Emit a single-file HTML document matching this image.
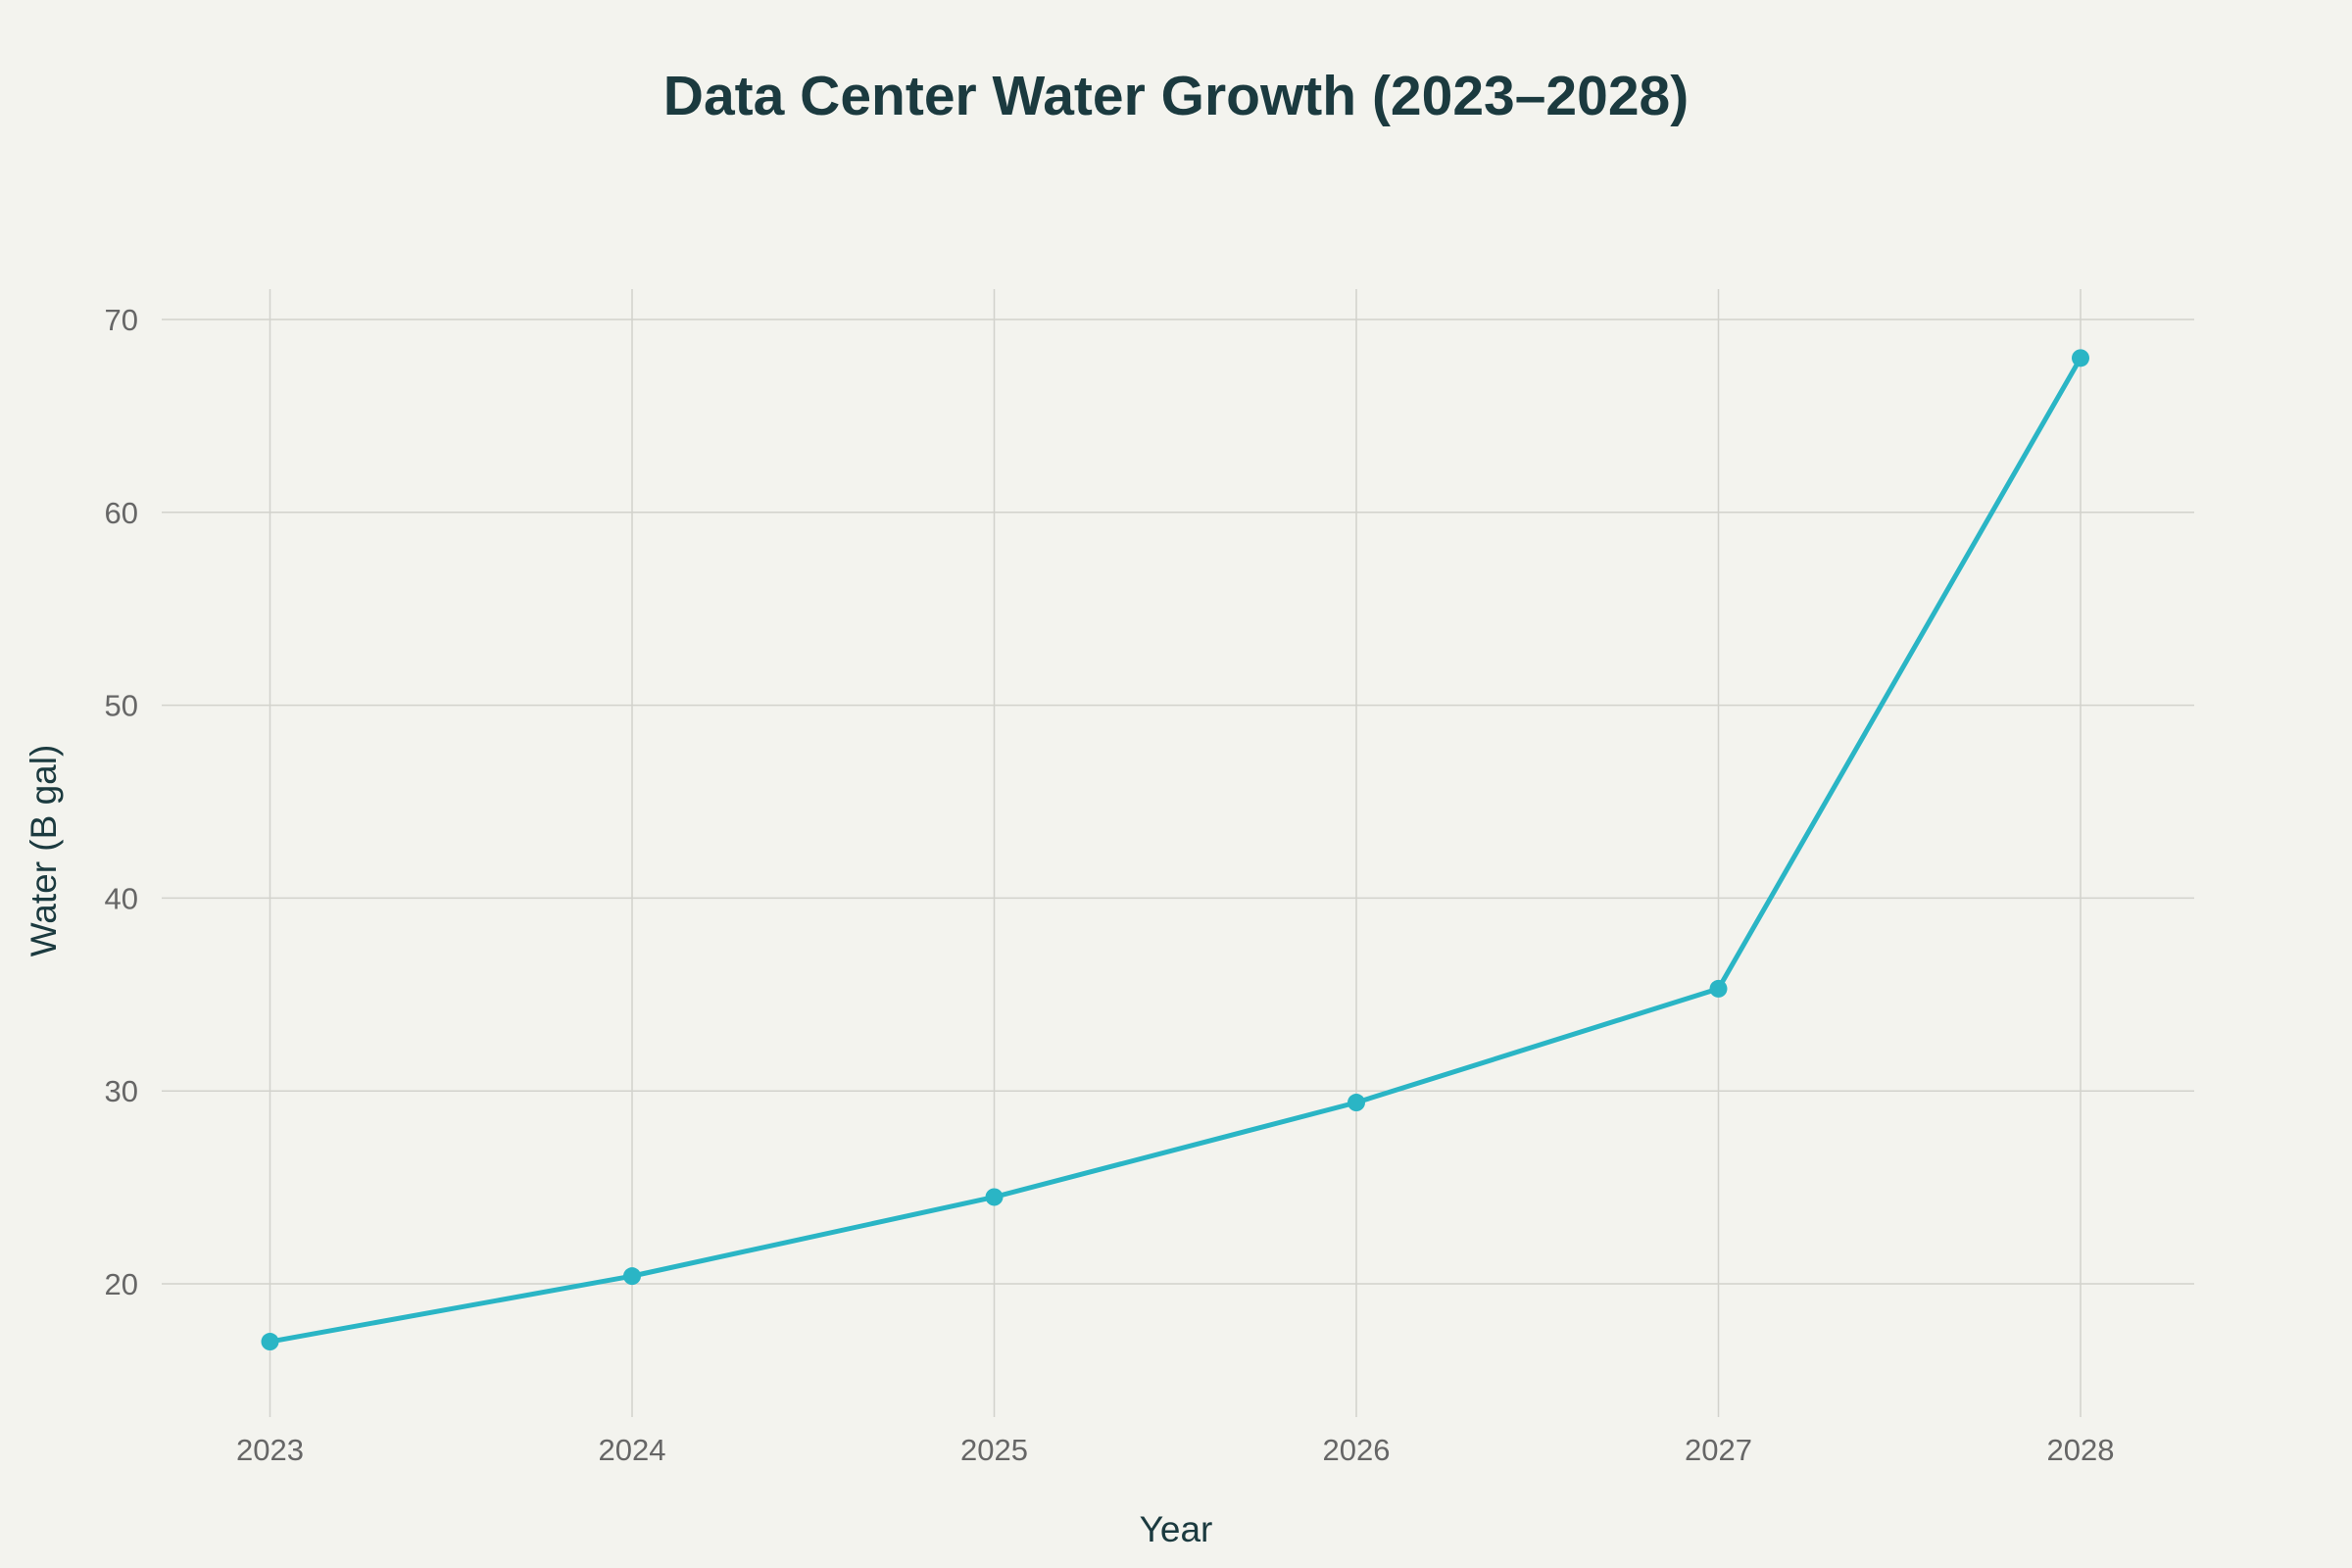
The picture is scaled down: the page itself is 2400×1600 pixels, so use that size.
<!DOCTYPE html>
<html>
<head>
<meta charset="utf-8">
<style>
  html,body{margin:0;padding:0;background:#f3f3ee;}
  svg{display:block;}
  text{font-family:"Liberation Sans",sans-serif;}
</style>
</head>
<body>
<svg id="chart" width="2400" height="1600" viewBox="0 0 2400 1600">
  <rect x="0" y="0" width="2400" height="1600" fill="#f3f3ee"/>
  <text x="1200" y="117" text-anchor="middle" font-size="57" font-weight="bold" fill="#1b3a3f">Data Center Water Growth (2023–2028)</text>
  <g id="grid"></g>
  <g id="yticks"></g>
  <g id="xticks"></g>
  <g id="series"></g>
  <text x="1200" y="1573" text-anchor="middle" font-size="37" fill="#1b3a3f">Year</text>
  <text transform="translate(57,868) rotate(-90)" text-anchor="middle" font-size="37" fill="#1b3a3f">Water (B gal)</text>
</svg>
<script>
const years = [2023, 2024, 2025, 2026, 2027, 2028];
const water = [17.0, 20.4, 24.5, 29.4, 35.3, 68.0];
const yTicks = [20, 30, 40, 50, 60, 70];

const NS = "http://www.w3.org/2000/svg";
const plotL = 165, plotR = 2239, plotT = 295, plotB = 1446;
function xScale(yr){ return 275.5 + (yr - 2023) * (2123 - 275.5) / 5; }
function yScale(v){ return 1310 + (v - 20) * (326 - 1310) / 50; }
function mk(tag, attrs){ const e = document.createElementNS(NS, tag); for (const k in attrs) e.setAttribute(k, attrs[k]); return e; }

const grid = document.getElementById('grid');
const yt = document.getElementById('yticks');
const xt = document.getElementById('xticks');
const series = document.getElementById('series');

yTicks.forEach(v => {
  const y = yScale(v);
  const l = mk('line', {x1: plotL, x2: plotR, y1: y, y2: y, stroke: '#d2d2cc', 'stroke-width': 1.5});
  
  
  grid.appendChild(l);
  const t = mk('text', {x: 141, y: y + 11, 'text-anchor': 'end', 'font-size': 31, fill: '#666'});
  t.textContent = v;
  
  
  yt.appendChild(t);
});

years.forEach(yr => {
  const x = xScale(yr);
  const l = mk('line', {x1: x, x2: x, y1: plotT, y2: plotB, stroke: '#d2d2cc', 'stroke-width': 1.5});
  
  
  grid.appendChild(l);
  const t = mk('text', {x: x, y: 1490, 'text-anchor': 'middle', 'font-size': 31, fill: '#666'});
  t.textContent = yr;
  
  
  xt.appendChild(t);
});

const pts = years.map((yr, i) => xScale(yr) + ',' + yScale(water[i])).join(' ');
const line = mk('polyline', {points: pts, fill: 'none', stroke: '#2ab5c5', 'stroke-width': 5, 'stroke-linejoin': 'round'});


series.appendChild(line);

years.forEach((yr, i) => {
  const c = mk('circle', {cx: xScale(yr), cy: yScale(water[i]), r: 9, fill: '#2ab5c5'});
  
  
  series.appendChild(c);
});
</script>
</body>
</html>
